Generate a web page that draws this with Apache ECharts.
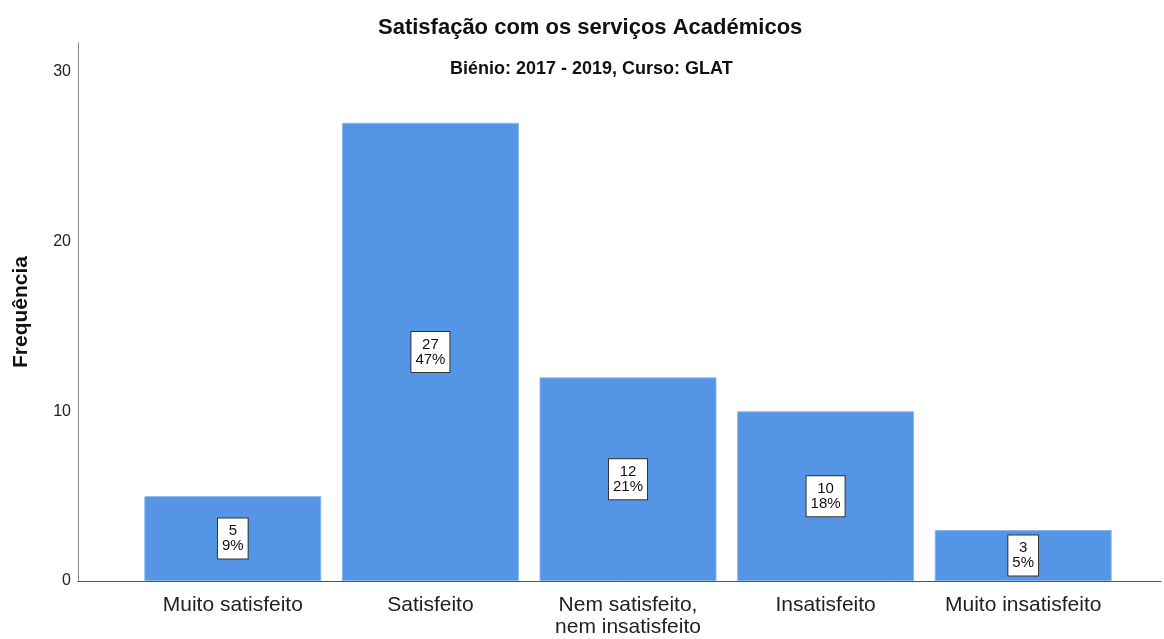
<!DOCTYPE html>
<html lang="pt">
  <head>
    <meta charset="UTF-8" />
    <title>Satisfação com os serviços Académicos</title>
    <script src="https://cdn.jsdelivr.net/npm/echarts/dist/echarts.min.js"></script>
    <style>
      html, body { margin: 0; padding: 0; background: #fff; }
      #chart { width: 1164px; height: 639px; }
    </style>
  </head>
  <body>
    <div id="chart"></div>
    <script>
      // dados
      const categorias = [
        "Muito satisfeito",
        "Satisfeito",
        "Nem satisfeito,\nnem insatisfeito",
        "Insatisfeito",
        "Muito insatisfeito",
      ];
      const frequencias = [5, 27, 12, 10, 3];
      const percentagens = [9, 47, 21, 18, 5];
      const yTicks = [0, 10, 20, 30];

      const font = "Liberation Sans, Arial, sans-serif";
      const yMax = 31.7;

      var chart = echarts.init(document.getElementById("chart"));

      var option = {
        animation: false,
        backgroundColor: "#fff",
        title: [
          {
            text: "Satisfação com os serviços Académicos",
            left: 373,
            top: 12,
            textStyle: { fontFamily: font, fontSize: 22, fontWeight: "bold", color: "#111" },
          },
          {
            text: "Biénio: 2017 - 2019, Curso: GLAT",
            left: 445,
            top: 55,
            textStyle: { fontFamily: font, fontSize: 18, fontWeight: "bold", color: "#111" },
          },
        ],
        grid: [
          { left: 78, right: 3, top: 43, bottom: 58 },
          { left: 134, right: 42, top: 43, bottom: 58 },
        ],
        xAxis: [
          {
            // só a linha de base, de ponta a ponta
            gridIndex: 0,
            type: "value",
            min: 0,
            max: 1,
            axisLine: { show: true, lineStyle: { color: "#555", width: 1 } },
            axisTick: { show: false },
            axisLabel: { show: false },
            splitLine: { show: false },
          },
          {
            gridIndex: 1,
            type: "category",
            data: categorias,
            axisLine: { show: false },
            axisTick: { show: false },
            axisLabel: {
              interval: 0,
              hideOverlap: false,
              fontFamily: font,
              fontSize: 21,
              lineHeight: 22,
              color: "#222",
              margin: 13,
            },
          },
        ],
        yAxis: [
          {
            gridIndex: 0,
            type: "value",
            min: 0,
            max: yMax,
            interval: 10,
            name: "Frequência",
            nameLocation: "middle",
            nameGap: 46,
            nameRotate: 90,
            nameTextStyle: { fontFamily: font, fontSize: 21, fontWeight: "bold", color: "#111" },
            axisLine: { show: true, lineStyle: { color: "#888", width: 1 } },
            axisTick: { show: false },
            splitLine: { show: false },
            axisLabel: {
              fontFamily: font,
              fontSize: 16,
              color: "#222",
              margin: 7,
              formatter: function (v) {
                return yTicks.indexOf(v) >= 0 ? String(v) : "";
              },
            },
          },
          {
            gridIndex: 1,
            type: "value",
            min: 0,
            max: yMax,
            show: false,
          },
        ],
        series: [
          {
            type: "bar",
            xAxisIndex: 1,
            yAxisIndex: 1,
            data: frequencias,
            barWidth: 177,
            itemStyle: { color: "#5595e5", borderColor: "#8ab6ee", borderWidth: 1 },
            label: {
              show: true,
              position: "inside",
              fontFamily: font,
              fontSize: 15,
              lineHeight: 15,
              color: "#111",
              backgroundColor: "#fff",
              borderColor: "#333",
              borderWidth: 1,
              padding: [5, 4, 5, 4],
              formatter: function (p) {
                return p.value + "\n" + percentagens[p.dataIndex] + "%";
              },
            },
          },
        ],
      };

      chart.setOption(option);
    </script>
  </body>
</html>
